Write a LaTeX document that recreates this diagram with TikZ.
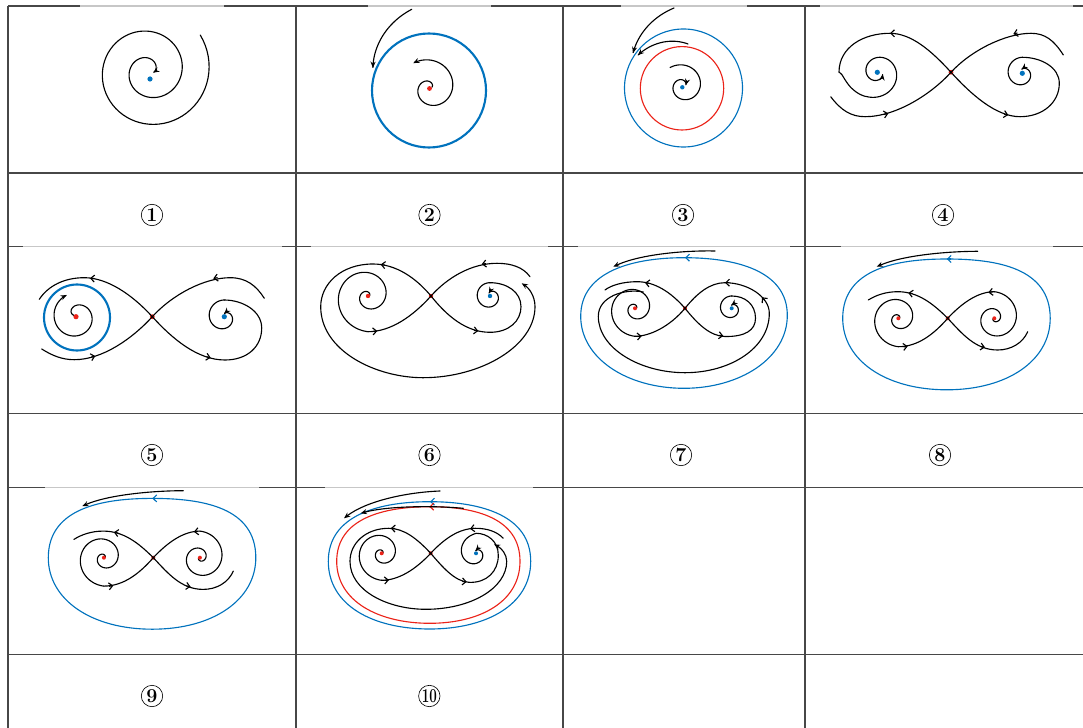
\documentclass[tikz,border=0pt]{standalone}
\usepackage{graphicx}
\usepackage{tikz}
\usetikzlibrary{arrows.meta}
\definecolor{cycblue}{RGB}{0,114,189}
\definecolor{cycred}{RGB}{235,35,25}

% spiral piece: [opts]{cx}{cy}{t0}{t1}{r0}{r1}{power}
\newcommand{\spir}[8][]{%
  \draw[traj,#1] plot[domain=#4:#5,samples=150,variable=\ang]
    ({#2+(#6+(#7-(#6))*pow(abs((\ang-(#4))/((#5)-(#4)))+0.0001,#8))*cos(\ang)},
     {#3+(#6+(#7-(#6))*pow(abs((\ang-(#4))/((#5)-(#4)))+0.0001,#8))*sin(\ang)});}
% arrow head sitting on a curve: [opts]{x}{y}{direction}
\newcommand{\marr}[4][]{\draw[traj,midtip,#1] (#2,#3) ++(#4+180:4) -- ++(#4:4);}

\begin{document}
\begin{tikzpicture}[x=0.025cm,y=-0.025cm,
  grid/.style={draw=black!72, line width=0.9pt},
  faded/.style={draw=black!22, line width=0.9pt},
  traj/.style={line width=0.8pt, line cap=round, line join=round},
  endtip/.style={-{Stealth[length=4.4pt,width=3.6pt]}},
  midtip/.style={-{Straight Barb[length=2.6pt,width=5pt]}},
  num/.style={circle, draw, line width=0.45pt, inner sep=0pt, minimum size=15.2pt,
    font=\fontsize{14}{14}\selectfont\bfseries}
]
\useasboundingbox (0,0) rectangle (1083,728);

% table
\foreach \xx in {8,296,563,805}
  \draw[grid] (\xx,6) -- (\xx,728);
\foreach \yy in {6,173,246.5,413.3,487.5,654.3}
  \draw[grid] (8,\yy) -- (1083,\yy);
% where the pictures sit on the rules
\foreach \yy/\xa/\xb in {6/80/224,6/368/491,6/621/747,6/820/1073,
    246.5/23/282,246.5/311/548,246.5/578/790,246.5/841/1053,
    487.5/45/259,487.5/325/533}
  \draw[faded] (\xa,\yy) -- (\xb,\yy);

% labels
\foreach \n/\xx/\yy in {1/152/215,2/429.5/215,3/683/215,4/943/215,
                       5/152/455,6/429.5/455,7/681/455,8/940/455,9/152/696}
  \node[num] (lab\n) at (\xx,\yy) {\n};
\node[num] (lab10) at (429.3,696) {\scalebox{0.68}[1]{10}};

% 1: stable focus
\spir[endtip]{149}{71}{-35}{740}{62.6}{4.5}{1}
\fill[cycblue] (150,79) circle[radius=2.6];

% 2: unstable focus, stable cycle
\draw[cycblue, line width=1.5pt] (429,90.5) circle[radius=57];
\spir[endtip]{430}{88}{340}{-124}{2}{30}{1}
\spir[endtip]{429}{90.5}{258}{202}{83}{60.5}{1}
\fill[cycred] (429.5,88.5) circle[radius=2.4];

% 3: two cycles
\draw[cycblue, line width=0.8pt] (683.5,88) circle[radius=59];
\draw[cycred, line width=0.8pt] (682,88.3) circle[radius=41.7];
\spir[endtip]{683}{86}{235}{700}{22.5}{3}{1}
\spir[endtip]{683}{88}{263.6}{215}{80.5}{61}{1}
\spir[endtip]{683}{88}{276.5}{216}{44.3}{55.8}{1}
\fill[cycblue] (682.3,87.3) circle[radius=2.2];

% 4
\begin{scope}[shift={(951,72.3)}]
  \fill[cycred] (0,0) circle[radius=2.4];
  \draw[traj] (0,0) .. controls (-20,-22) and (-40,-39) .. (-61,-39)
    .. controls (-88,-39) and (-112,-25) .. (-112,0);
  \spir[endtip]{-73.7}{0}{180}{-340}{38.3}{5.7}{0.5}
  \draw[traj] (-120.3,24.4) .. controls (-110,38) and (-100,44.4) .. (-86,44.4)
    .. controls (-55,44.4) and (-20,22) .. (0,0);
  \draw[traj] (112.3,-17.3) .. controls (103,-32) and (94,-39) .. (80,-39)
    .. controls (55,-39) and (20,-22) .. (0,0);
  \draw[traj] (0,0) .. controls (20,22) and (45,44.4) .. (69,44.4)
    .. controls (92,44.4) and (108.3,30) .. (108.3,11)
    .. controls (108.3,-5) and (90,-15) .. (71.3,-15);
  \spir[endtip]{71.3}{1}{-90}{-460}{16}{4}{1.3}
  \marr{-61}{-39}{180} \marr{-62.7}{41.2}{-12}
  \marr{62.3}{-38.4}{168} \marr{57.3}{42.7}{12}
  \fill[cycblue] (-73.7,0) circle[radius=2.6];
  \fill[cycblue] (71.3,1) circle[radius=2.6];
\end{scope}

% 5
\begin{scope}[shift={(152.3,316.7)}]
  \fill[cycred] (0,0) circle[radius=2.4];
  \draw[cycblue, line width=1.5pt] (-75.3,0.8) circle[radius=33];
  \spir[endtip]{-76.3}{0}{210}{607}{2}{23.6}{0.45}
  \draw[traj] (0,0) .. controls (-20,-22) and (-45,-39) .. (-68,-39)
    .. controls (-88,-39) and (-104,-31) .. (-113,-17.4);
  \draw[traj] (-110.6,32.3) .. controls (-100,39) and (-90,43) .. (-78,43)
    .. controls (-50,43) and (-20,22) .. (0,0);
  \draw[traj] (112,-18.4) .. controls (104,-31) and (94,-39) .. (78,-39)
    .. controls (52,-39) and (20,-22) .. (0,0);
  \draw[traj] (0,0) .. controls (20,22) and (45,43.3) .. (72.7,43.3)
    .. controls (95,43.3) and (109.4,30) .. (109.4,11.3)
    .. controls (109.4,-6) and (90,-16.7) .. (72,-16.7);
  \spir[endtip]{72}{0}{-90}{-450}{16.7}{3}{1.5}
  \marr{-62.3}{-38.5}{185} \marr{-57}{39.4}{-14}
  \marr{61}{-38.3}{170} \marr{58.4}{41}{12}
  \fill[cycred] (-76.3,0) circle[radius=2.6];
  \fill[cycblue] (72,0) circle[radius=2.6];
\end{scope}

% 6
\begin{scope}[shift={(431,296)}]
  \fill[cycred] (0,0) circle[radius=2.2];
  \draw[traj,endtip] (0,0) .. controls (-15,-18) and (-35,-32) .. (-58,-32)
    .. controls (-90,-32) and (-110.3,-12) .. (-110.3,10.7)
    .. controls (-110.3,55) and (-55,81.7) .. (-8,81.7)
    .. controls (50,81.7) and (104,50) .. (104,10.7)
    .. controls (104,0) and (98,-8) .. (90.7,-12.7);
  \spir{-63}{0}{700}{90}{2}{35.7}{1.3}
  \draw[traj] (-63,35.7) .. controls (-40,35.7) and (-18,20) .. (0,0);
  \draw[traj] (99,-19.3) .. controls (92,-29) and (80,-32.7) .. (66,-32.7)
    .. controls (40,-32.7) and (16,-18) .. (0,0);
  \draw[traj] (0,0) .. controls (16,20) and (35,36.3) .. (59,36.3)
    .. controls (78,36.3) and (90,25) .. (90,10.7)
    .. controls (90,-4) and (76,-13.3) .. (59,-13.3);
  \spir[endtip]{59}{0}{-90}{-470}{13.3}{3}{2}
  \marr{-50.3}{-31.5}{188} \marr{-53.7}{35}{-5}
  \marr{50.7}{-31.8}{172} \marr{47.3}{35}{8}
  \fill[cycred] (-63,0) circle[radius=2.2];
  \fill[cycblue] (59,0) circle[radius=2.2];
\end{scope}

% 7
\begin{scope}[shift={(685,308.3)}]
  \fill[cycred] (0,0) circle[radius=2];
  \draw[cycblue, line width=0.8pt] (-1,-50.6) .. controls (50,-50.6) and (102.3,-38) .. (102.3,7)
    .. controls (102.3,50) and (55,80) .. (-1,80)
    .. controls (-58,80) and (-104.3,50) .. (-104.3,8)
    .. controls (-104.3,-38) and (-50,-50.6) .. cycle;
  \marr[cycblue]{0}{-50.6}{180}
  \draw[traj,endtip] (30,-57.3) .. controls (0,-58) and (-45,-54) .. (-71.7,-41.6);
  \draw[traj] (0,0) .. controls (-14,-16) and (-30,-26.6) .. (-48,-26.6)
    .. controls (-62,-26.6) and (-74,-23) .. (-80,-18.3);
  \draw[traj] (-41.7,-16.3) .. controls (-60,-20) and (-86.7,-12) .. (-86.7,8)
    .. controls (-86.7,40) and (-45,64.4) .. (0,64.4)
    .. controls (45,64.4) and (84.3,40) .. (84.3,5)
    .. controls (84.3,-12) and (62,-25.6) .. (40,-25.6)
    .. controls (25,-25.6) and (12,-15) .. (0,0);
  \spir{-50}{0}{720}{90}{1.5}{28}{1.3}
  \draw[traj] (-50,28) .. controls (-35,28) and (-15,18) .. (0,0);
  \draw[traj] (0,0) .. controls (12,15) and (25,28) .. (40,28.2)
    .. controls (60,28.5) and (70.5,22) .. (70.5,10)
    .. controls (70.5,-4) and (60,-12.3) .. (46.7,-12.3);
  \spir[endtip]{46.7}{0}{-90}{-455}{12.3}{3}{1.5}
  \marr{-40}{-25.5}{188} \marr{-43.3}{27.8}{-5}
  \marr{77}{-11}{230} \marr{40}{-25.6}{180} \marr{38.3}{27.6}{8}
  \fill[cycred] (-50,0) circle[radius=2];
  \fill[cycblue] (46.7,0) circle[radius=2];
\end{scope}

% 8 and 9
\foreach \sx/\sy in {947.7/318.3,153.3/557.7}{
\begin{scope}[shift={(\sx,\sy)}]
  \fill[cycred] (0,0) circle[radius=2];
  \draw[cycblue, line width=0.8pt] (-1,-59.3) .. controls (50,-59.3) and (102.5,-50) .. (102.5,0)
    .. controls (102.5,42) and (60,71.5) .. (-1,71.5)
    .. controls (-62,71.5) and (-105,42) .. (-105,0)
    .. controls (-105,-50) and (-50,-59.3) .. cycle;
  \marr[cycblue]{-1}{-59.3}{180}
  \draw[traj,endtip] (30,-67) .. controls (0,-67) and (-45,-63) .. (-71,-51.6);
  \draw[traj] (0,0) .. controls (-15,-15) and (-30,-26.6) .. (-50,-26.6)
    .. controls (-62,-26.6) and (-72,-23) .. (-79.4,-18.3);
  \spir{-49.4}{0}{700}{90}{1.5}{28.4}{1.3}
  \draw[traj] (-49.4,28.4) .. controls (-30,28.4) and (-14,16) .. (0,0);
  \spir{46.6}{0}{880}{270}{1.5}{26.6}{1.3}
  \draw[traj] (46.6,-26.6) .. controls (30,-26.6) and (14,-15) .. (0,0);
  \draw[traj] (0,0) .. controls (15,16) and (28,31.7) .. (50,31.7)
    .. controls (63,31.7) and (75,25) .. (80,13.4);
  \marr{-39.4}{-25.4}{190} \marr{-40}{28}{-8}
  \marr{40.6}{-25.8}{172} \marr{37.3}{29}{10}
  \fill[cycred] (-49.4,0) circle[radius=2];
  \fill[cycred] (46.6,0) circle[radius=2];
\end{scope}}

% 10
\begin{scope}[shift={(430.7,553.3)}]
  \fill[cycred] (0,0) circle[radius=2];
  \draw[cycblue, line width=0.8pt] (-1,-51.6) .. controls (50,-51.6) and (100,-38) .. (100,8)
    .. controls (100,52) and (55,75.7) .. (-1,75.7)
    .. controls (-58,75.7) and (-102.4,52) .. (-102.4,8)
    .. controls (-102.4,-38) and (-52,-51.6) .. cycle;
  \draw[cycred, line width=0.8pt] (-1,-46.6) .. controls (45,-46.6) and (89.3,-35) .. (89.3,8)
    .. controls (89.3,48) and (50,70) .. (-1,70)
    .. controls (-52,70) and (-94,48) .. (-94,8)
    .. controls (-94,-35) and (-47,-46.6) .. cycle;
  \marr[cycblue]{-0.7}{-51.6}{180} \marr[cycred]{-1.4}{-46.6}{180}
  \draw[traj,endtip] (9.3,-62.3) .. controls (-25,-61) and (-65,-52) .. (-86.7,-35);
  \draw[traj,endtip] (32.6,-45) .. controls (0,-48) and (-45,-47) .. (-70,-40);
  \draw[traj,endtip] (0,0) .. controls (-14,-15) and (-27,-25) .. (-42,-25)
    .. controls (-65,-25) and (-80.7,-10) .. (-80.7,8)
    .. controls (-80.7,38) and (-42,56) .. (-5,56)
    .. controls (40,56) and (76,35) .. (76,8)
    .. controls (76,1) and (71,-5) .. (63.3,-9);
  \draw[traj] (72.6,-15) .. controls (66,-22) and (56,-25) .. (45,-25)
    .. controls (28,-25) and (13,-14) .. (0,0);
  \draw[traj] (0,0) .. controls (12,14) and (24,28) .. (38,29)
    .. controls (56,30) and (67.6,18) .. (67.6,2)
    .. controls (67.6,-12) and (57,-20) .. (45.3,-20);
  \spir[endtip]{45.3}{0}{-90}{-460}{20}{2.5}{0.8}
  \spir{-49}{0}{700}{90}{1.5}{27}{1.3}
  \draw[traj] (-49,27) .. controls (-32,27) and (-15,16) .. (0,0);
  \marr{-40}{-25}{183} \marr{-41.7}{26.7}{-5}
  \marr{39.3}{-24.5}{172} \marr{36}{28.5}{5}
  \fill[cycred] (-49,0) circle[radius=2];
  \fill[cycblue] (45.3,0) circle[radius=2];
\end{scope}
\end{tikzpicture}
\end{document}
